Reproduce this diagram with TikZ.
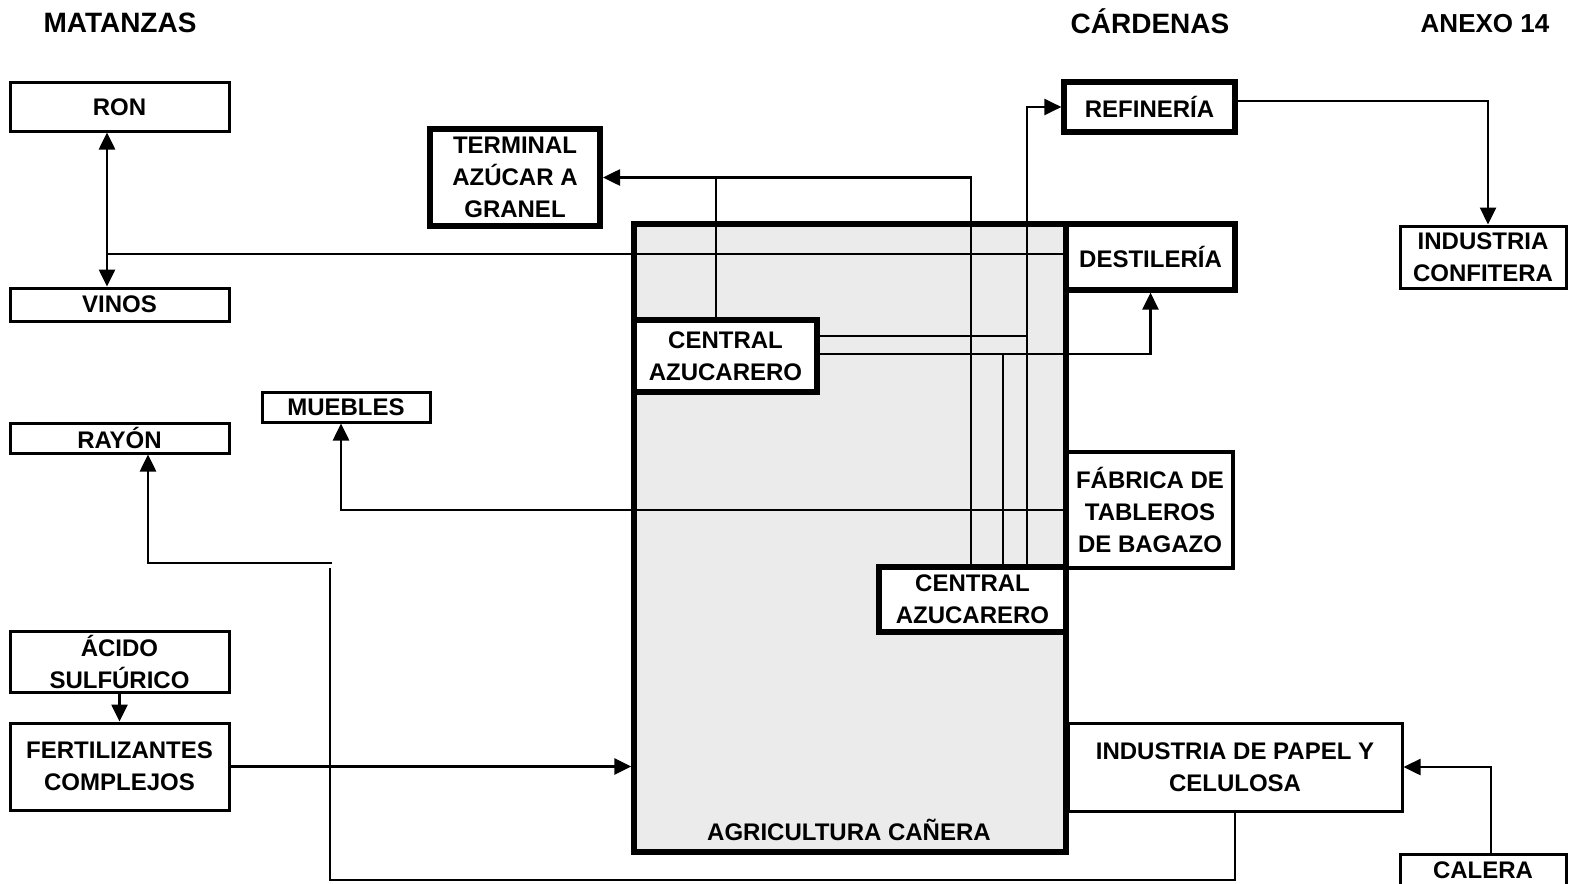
\documentclass[tikz,border=0pt]{standalone}
\usepackage{fontspec}
\setmainfont{Liberation Sans}
\usetikzlibrary{arrows.meta,calc}
\begin{document}
\begin{tikzpicture}[x=0.5pt,y=-0.5pt,
  thinbox/.style={draw=black,line width=1.5pt,fill=white,align=center,inner sep=0pt,font=\bfseries\fontsize{12}{16}\selectfont},
  thickbox/.style={thinbox,line width=2.6pt},
  conn/.style={line width=1.3pt},
  arr/.style={conn,-{Triangle[length=8.5pt,width=8pt]}},
  biarr/.style={conn,{Triangle[length=8.5pt,width=8pt]}-{Triangle[length=8.5pt,width=8pt]}},
  title/.style={font=\bfseries\fontsize{14}{16}\selectfont}]
\useasboundingbox (0,0) rectangle (1572,883);
\clip (0,0) rectangle (1572,883);

% titles
\node[title] (tmat) at (120,23) {MATANZAS};
\node[title] (tcar) at (1150,21) {CÁRDENAS};
\node[font=\bfseries\fontsize{13}{16}\selectfont] (tanexo) at (1485,24) {ANEXO 14};

% big box
\node[draw=black,line width=2.7pt,fill=black!8,minimum width=216pt,minimum height=314pt,inner sep=0pt] (agri) at (850,538) {};
\node[font=\bfseries\fontsize{12}{16}\selectfont] (agrilabel) at (849,830) {AGRICULTURA CAÑERA};

% left boxes
\node[thinbox,minimum width=109.5pt,minimum height=24pt] (ron) at (119.5,107) {RON};
\node[thinbox,minimum width=109.5pt,minimum height=16.5pt] (vinos) at (119.5,304.5) {VINOS};
\node[thinbox,minimum width=109.5pt,minimum height=15pt] (rayon) at (119.5,438) {RAYÓN};
\node[thinbox,minimum width=84pt,minimum height=15pt] (muebles) at (346,407) {MUEBLES};
\node[thinbox,minimum width=109.5pt,minimum height=30.5pt] (acido) at (119.5,661.5) {ÁCIDO\\SULFÚRICO};
\node[thinbox,minimum width=109.5pt,minimum height=43.5pt] (fert) at (119.5,766.5) {FERTILIZANTES\\COMPLEJOS};
\node[thickbox,line width=3pt,minimum width=85pt,minimum height=48.5pt] (terminal) at (515,177.5) {TERMINAL\\AZÚCAR A\\GRANEL};

% centrals
\node[thickbox,minimum width=91.5pt,minimum height=36pt] (central1) at (725.5,356) {CENTRAL\\AZUCARERO};
\node[thickbox,minimum width=93.5pt,minimum height=32.5pt] (central2) at (972.5,599.5) {CENTRAL\\AZUCARERO};

% right boxes
\node[thickbox,minimum width=85.5pt,minimum height=25pt] (refineria) at (1149.5,107) {REFINERÍA};
\node[thickbox,minimum width=84.5pt,minimum height=33pt] (destileria) at (1150.5,257) {DESTILERÍA};
\node[thinbox,line width=1.7pt,minimum width=83pt,minimum height=58pt] (fabrica) at (1150,510) {FÁBRICA DE\\TABLEROS\\DE BAGAZO};
\node[thinbox,minimum width=167pt,minimum height=44pt] (papel) at (1235,767) {INDUSTRIA DE PAPEL Y\\CELULOSA};
\node[thinbox,minimum width=83pt,minimum height=31pt] (confitera) at (1483,257) {INDUSTRIA\\CONFITERA};
\node[thinbox,anchor=north,minimum width=83pt,inner ysep=3pt,text height=8.75pt,text depth=15pt] (calera) at (1483,853) {CALERA};

% helper coordinates
\coordinate (vx) at (107,0);
\coordinate (t716) at (716,176);
\coordinate (x971) at (971,0);
\coordinate (x1027) at (1027,0);
\coordinate (j336) at (1027,336);
\coordinate (j354) at (1003,354);
\coordinate (y254) at (0,254);
\coordinate (rr) at (332,563);
\coordinate (rl) at (148,563);
\coordinate (bl) at (330,568);
\coordinate (bb) at (330,880);
\coordinate (kx) at (1491,0);

% connectors
\draw[biarr] (ron.south -| vx) -- (vinos.north -| vx);
\draw[conn] (destileria.west |- y254) -- (vx |- y254);
\draw[arr] (central2.north -| x971) |- (terminal.east);
\draw[conn] (central1.north -| t716) -- (t716);
\draw[arr] (central2.north -| x1027) |- (refineria.west);
\draw[conn] (central1.east |- j336) -- (j336);
\draw[arr] (central1.east |- j354) -| (destileria.south);
\draw[conn] (central2.north -| j354) -- (j354);
\draw[arr] (fabrica.west) -| ($(muebles.south)+(-5,0)$);
\draw[arr] (rr) -- (rl) -- (rl |- rayon.south);
\draw[conn] (papel.south) -- (papel.south |- bb) -- (bb) -- (bl);
\draw[arr] (acido.south) -- (fert.north);
\draw[arr] (fert.east) -- (fert.east -| agri.west);
\draw[arr] ($(refineria.east)+(0,-6)$) -| ($(confitera.north)+(5,0)$);
\draw[arr] (calera.north -| kx) |- (papel.east);
\end{tikzpicture}
\end{document}
